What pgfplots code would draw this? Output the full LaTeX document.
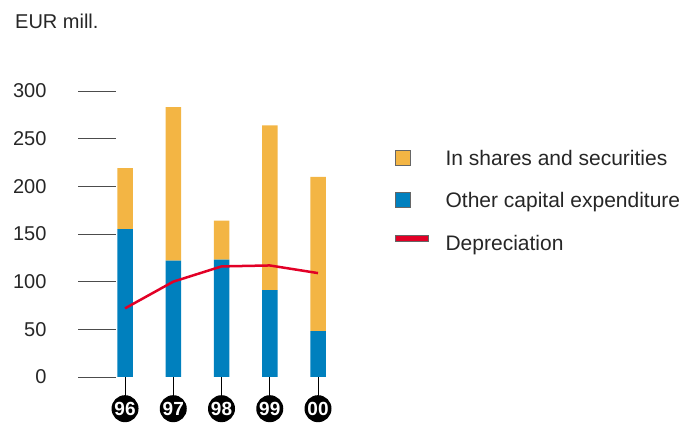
\documentclass[border=0pt]{standalone}
\usepackage{fontspec}
\setmainfont{Liberation Sans}
\usepackage{pgfplots}
\pgfplotsset{compat=1.18}
\definecolor{shares}{RGB}{243,181,68}
\definecolor{capex}{RGB}{0,128,190}
\definecolor{depr}{RGB}{226,0,38}

\pgfplotsset{
  frame/.style={
    at={(116pt,45pt)}, anchor=south west,
    scale only axis, width=224pt, height=286pt,
    xmin=-0.187, xmax=4.456, ymin=0, ymax=300,
  },
}

\begin{document}
\begin{tikzpicture}[x=1pt,y=1pt]
\path (0,0) rectangle (699,422);
\node[anchor=base west, inner sep=0, text=black!85,
      font=\fontsize{20}{24}\selectfont] at (15,393) {EUR mill.};

\begin{axis}[frame,
    axis lines*=left, axis line style={draw=none},
    ybar stacked, bar width=15.5pt,
    ytick={0,50,...,300},
    xtick={0,...,4}, xticklabels={96,97,98,99,00},
    tick align=outside, major tick length=38pt,
    ytick style={draw=black!70, line width=0.9pt},
    xtick style={draw=black, line width=0.9pt},
    /pgf/number format/assume math mode=true,
    yticklabel style={anchor=east, xshift=-28pt,
      font=\fontsize{20}{24}\selectfont, text=black!85},
    xticklabel style={circle, fill=black, text=white, inner sep=0pt,
      minimum size=27pt, yshift=20pt, font=\bfseries\fontsize{19}{19}\selectfont},
]
% Other capital expenditure
\addplot[fill=capex, draw=none] coordinates
  {(0,155) (1,122) (2,123) (3,91) (4,48)};
% In shares and securities
\addplot[fill=shares, draw=none] coordinates
  {(0,64) (1,161) (2,41) (3,173) (4,162)};
\end{axis}

\begin{axis}[frame, axis lines=none,
    legend style={at={(1.232,0.803)}, anchor=north west, draw=none, fill=none,
      font=\fontsize{21}{25}\selectfont, text=black!85,
      nodes={inner sep=0pt, text height=15pt, text depth=4pt},
      row sep=23pt, column sep=0pt,
      /tikz/every odd column/.append style={column sep=17pt}},
    legend cell align=left,
]
\addplot[depr, line width=2.5pt, forget plot] coordinates
  {(0,72) (1,100) (2,116) (3,117) (4,109)};
\addlegendimage{legend image code/.code={
  \draw[fill=shares, draw=black!60, line width=0.4pt] (0pt,-5pt) rectangle (15pt,10pt);
  \path[draw=none] (0pt,0pt) -- (33pt,0pt);}}
\addlegendentry{In shares and securities}
\addlegendimage{legend image code/.code={
  \draw[fill=capex, draw=black!60, line width=0.4pt] (0pt,-5pt) rectangle (15pt,10pt);
  \path[draw=none] (0pt,0pt) -- (33pt,0pt);}}
\addlegendentry{Other capital expenditure}
\addlegendimage{legend image code/.code={
  \draw[fill=depr, draw=black!60, line width=0.4pt] (0pt,4pt) rectangle (33pt,10pt);}}
\addlegendentry{Depreciation}
\end{axis}
\end{tikzpicture}
\end{document}
